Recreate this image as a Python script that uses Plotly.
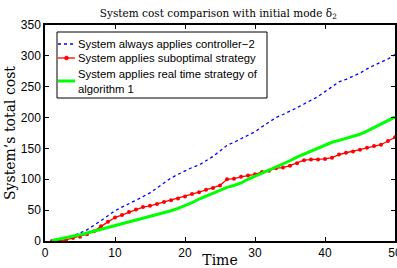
import plotly.graph_objects as go

time = list(range(1, 51))
always_ctrl2 = [0, 1, 4, 8, 13, 18, 25, 33, 41, 49, 55, 60, 66, 72, 78, 86, 94, 102, 108, 114,
                119, 123, 130, 137, 146, 155, 160, 166, 171, 177, 185, 193, 200, 205, 210, 216,
                222, 228, 234, 242, 250, 258, 262, 267, 272, 279, 285, 290, 295, 302]
suboptimal = [0, 0, 2, 5, 7, 11, 16, 24, 31, 38, 42, 47, 51, 55, 57, 60, 63, 66, 69, 72,
              76, 79, 83, 86, 90, 100, 101, 104, 106, 108, 112, 114, 118, 119, 122, 126,
              131, 132, 132, 133, 135, 140, 143, 145, 148, 151, 154, 156, 162, 168]
realtime = [1, 3, 5, 8, 10, 13, 16, 19, 22, 25, 27, 30, 33, 36, 40, 43, 46, 49, 53, 57,
            62, 68, 73, 78, 83, 87, 90, 94, 100, 105, 110, 115, 119, 124, 130, 136, 141,
            146, 151, 156, 160, 163, 166, 169, 173, 178, 184, 190, 196, 201]

names = ["System always applies controller\u22122",
         "System applies suboptimal strategy",
         "System applies real time strategy of<br>algorithm 1"]
colors = ["#0000ff", "#ff0000", "#00ff00"]
widths = [1.3, 1.3, 3]
dashes = ["dot", "solid", "solid"]

fig = go.Figure()
fig.add_trace(go.Scatter(x=time, y=always_ctrl2, mode="lines", name=names[0],
                         line=dict(color=colors[0], width=widths[0], dash=dashes[0])))
fig.add_trace(go.Scatter(x=time, y=suboptimal, mode="lines+markers", name=names[1],
                         line=dict(color=colors[1], width=widths[1]),
                         marker=dict(color=colors[1], size=4, symbol="circle")))
fig.add_trace(go.Scatter(x=time, y=realtime, mode="lines", name=names[2],
                         line=dict(color=colors[2], width=widths[2])))

serif = "DejaVu Serif, Liberation Serif, serif"
sans = "Liberation Sans, Arial, sans-serif"

# ---- custom legend (paper coordinates) ----
L, T, W, H = 45, 25, 350, 216  # plot area in px
def px(xp):
    return (xp - L) / W
def py(yp):
    return (T + H - yp) / H

shapes = [dict(type="rect", xref="paper", yref="paper",
               x0=px(57), x1=px(267), y0=py(98), y1=py(32),
               line=dict(color="black", width=1), fillcolor="white", layer="above")]
annotations = []
entry_y = [44, 58, 81]
for i, nm in enumerate(names):
    shapes.append(dict(type="line", xref="paper", yref="paper",
                       x0=px(58), x1=px(75), y0=py(entry_y[i]), y1=py(entry_y[i]),
                       line=dict(color=colors[i], width=widths[i], dash=dashes[i]),
                       layer="above"))
    annotations.append(dict(xref="paper", yref="paper", x=px(76), y=py(entry_y[i]),
                            text=nm, showarrow=False, xanchor="left", yanchor="middle",
                            align="left", font=dict(family=sans, size=11.3, color="black")))
shapes.append(dict(type="circle", xref="paper", yref="paper",
                   x0=px(64.5), x1=px(68.5), y0=py(entry_y[1] + 2), y1=py(entry_y[1] - 2),
                   line=dict(color=colors[1], width=0.5), fillcolor=colors[1], layer="above"))

fig.update_layout(
    width=397, height=268,
    margin=dict(l=L, r=397 - L - W, t=T, b=268 - T - H, autoexpand=False),
    paper_bgcolor="white", plot_bgcolor="white",
    showlegend=False,
    shapes=shapes, annotations=annotations,
    title=dict(text="System cost comparison with initial mode \u03b4<sub>2</sub>",
               x=0.55, xanchor="center", y=0.95, yanchor="middle",
               font=dict(family=serif, size=10.5, color="black")),
    xaxis=dict(range=[0, 50], tickvals=[0, 10, 20, 30, 40, 50],
               showline=True, linecolor="black", linewidth=1.5, mirror="ticks",
               ticks="inside", ticklen=4, tickcolor="black", showgrid=False, zeroline=False,
               automargin=False, ticklabeloverflow="allow",
               tickfont=dict(family=sans, size=12, color="black"),
               title=dict(text="Time", font=dict(family=serif, size=14, color="black"), standoff=0)),
    yaxis=dict(range=[0, 350], tickvals=[0, 50, 100, 150, 200, 250, 300, 350],
               showline=True, linecolor="black", linewidth=1.5, mirror="ticks",
               ticks="inside", ticklen=4, tickcolor="black", showgrid=False, zeroline=False,
               automargin=False, ticklabeloverflow="allow",
               tickfont=dict(family=sans, size=12, color="black"),
               title=dict(text="System\u2019s total cost", font=dict(family=serif, size=14, color="black"), standoff=2)),
)

fig.write_html("out.html", config={"displayModeBar": False},
               post_script="document.body.style.margin='0';")
